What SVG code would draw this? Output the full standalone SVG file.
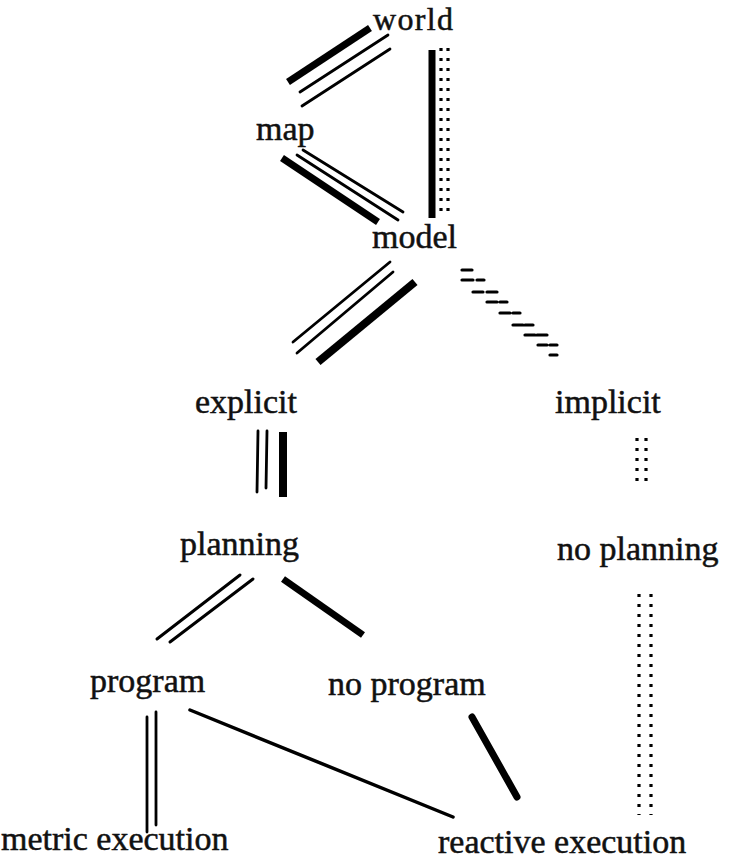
<svg xmlns="http://www.w3.org/2000/svg" width="730" height="867" viewBox="0 0 730 867">
<style>
text{font-family:"Liberation Serif","Times New Roman",serif;font-size:34px;fill:#111;stroke:#111;stroke-width:0.5}
.thin{stroke:#000;stroke-width:2.8;stroke-linecap:round;fill:none}
.thick{stroke:#000;stroke-width:7;stroke-linecap:butt;fill:none}
.dots{stroke:#000;stroke-width:3.2;stroke-dasharray:3 7;fill:none}
.dash{stroke:#000;stroke-width:3.2;stroke-linecap:round;fill:none}
</style>
<rect width="730" height="867" fill="#fff"/>
<g id="connectors">
  <!-- world - map -->
  <line class="thick" x1="288" y1="82" x2="370" y2="28"/>
  <line class="thin" x1="300" y1="92" x2="388" y2="35"/>
  <line class="thin" x1="302" y1="106" x2="390" y2="49"/>
  <!-- map - model -->
  <line class="thick" x1="282" y1="158" x2="378" y2="222"/>
  <line class="thin" x1="297" y1="155" x2="398" y2="220"/>
  <line class="thin" x1="303" y1="150" x2="403" y2="212"/>
  <!-- world - model -->
  <line class="thick" x1="432" y1="50" x2="432" y2="218"/>
  <line class="dots" x1="441" y1="48" x2="441" y2="218"/>
  <line class="dots" x1="448" y1="48" x2="448" y2="218"/>
  <!-- model - explicit -->
  <line class="thin" x1="390" y1="262" x2="293" y2="342"/>
  <line class="thin" x1="393" y1="272" x2="297" y2="353"/>
  <line class="thick" x1="415" y1="282" x2="318" y2="362" style="stroke-width:8"/>
  <!-- model - implicit -->
  <path class="dash" d="M462 270h10 M462 280h11 M477 280h7 M473 292h10 M487 292h10 M487 302h10 M500 302h7 M500 313h10 M513 313h7 M513 325h10 M525 325h8 M525 335h10 M537 335h10 M538 345h9 M550 345h7 M550 355h7"/>
  <!-- explicit - planning -->
  <line class="thin" x1="258" y1="431" x2="257" y2="492"/>
  <line class="thin" x1="267" y1="431" x2="266" y2="488"/>
  <line class="thick" x1="283" y1="432" x2="283" y2="497" style="stroke-width:8"/>
  <!-- implicit - no planning -->
  <line class="dots" x1="637" y1="438" x2="637" y2="482"/>
  <line class="dots" x1="646" y1="438" x2="646" y2="482"/>
  <!-- planning - program -->
  <line class="thin" x1="157" y1="639" x2="240" y2="575" style="stroke-width:3"/>
  <line class="thin" x1="170" y1="642" x2="253" y2="579" style="stroke-width:3"/>
  <!-- planning - no program -->
  <line class="thick" x1="283" y1="579" x2="363" y2="635"/>
  <!-- no planning - reactive execution -->
  <line class="dots" x1="639" y1="594" x2="639" y2="815"/>
  <line class="dots" x1="651" y1="594" x2="651" y2="815"/>
  <!-- program - metric execution -->
  <line class="thin" x1="147" y1="717" x2="147" y2="832"/>
  <line class="thin" x1="156" y1="712" x2="156" y2="825"/>
  <!-- program - reactive execution -->
  <line class="thin" x1="190" y1="710" x2="453" y2="817" style="stroke-width:3.5"/>
  <!-- no program - reactive execution -->
  <line class="thick" x1="472" y1="717" x2="517" y2="797" style="stroke-linecap:round"/>
</g>
<g id="node-world"><text x="373" y="30" style="font-size:32px" textLength="80">world</text></g>
<g id="node-map"><text x="256" y="140">map</text></g>
<g id="node-model"><text x="372" y="248">model</text></g>
<g id="node-explicit"><text x="195" y="413">explicit</text></g>
<g id="node-implicit"><text x="555" y="413">implicit</text></g>
<g id="node-planning"><text x="180" y="555">planning</text></g>
<g id="node-no-planning"><text x="557" y="560">no planning</text></g>
<g id="node-program"><text x="90" y="692">program</text></g>
<g id="node-no-program"><text x="328" y="695">no program</text></g>
<g id="node-metric-execution"><text x="1" y="850">metric execution</text></g>
<g id="node-reactive-execution"><text x="438" y="853">reactive execution</text></g>
</svg>
